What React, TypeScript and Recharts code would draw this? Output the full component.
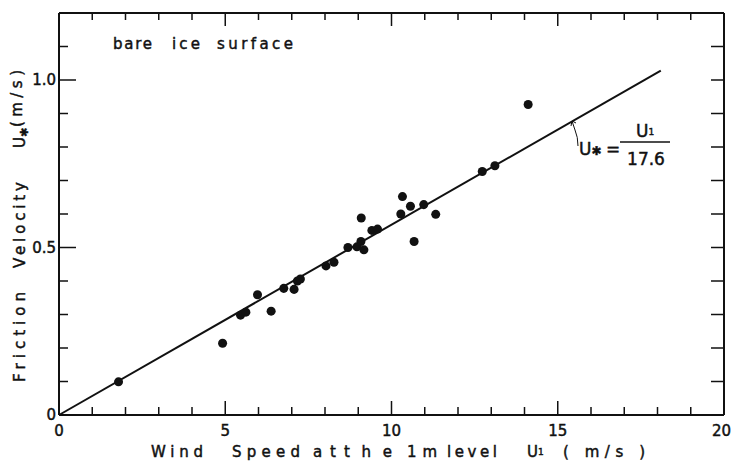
import React from "react";
import { ScatterChart, Scatter, XAxis, YAxis } from "recharts";

// wind speed at 1 m (m/s) and friction velocity (m/s), bare ice surface
const windSpeed = [
  1.79, 4.92, 5.46, 5.62, 5.97, 6.38, 6.76, 7.07, 7.17, 7.26, 8.03, 8.27, 8.69, 8.96,
  9.08, 9.17, 9.09, 9.41, 9.58, 10.28, 10.33, 10.57, 10.68, 10.97, 11.33, 12.73, 13.11, 14.11,
];
const frictionVelocity = [
  0.099, 0.214, 0.298, 0.307, 0.359, 0.31, 0.378, 0.375, 0.4, 0.406, 0.445, 0.456, 0.5, 0.502,
  0.518, 0.493, 0.588, 0.551, 0.555, 0.6, 0.652, 0.623, 0.518, 0.628, 0.599, 0.727, 0.744, 0.927,
];

// fitted line U* = U1 / 17.6
const fitU1 = [0, 18.1];
const fitUstar = [0, 1.028];

const xTicks = [0, 1, 2, 3, 4, 5, 6, 7, 8, 9, 10, 11, 12, 13, 14, 15, 16, 17, 18, 19, 20];
const yTicks = [0, 0.1, 0.2, 0.3, 0.4, 0.5, 0.6, 0.7, 0.8, 0.9, 1.0, 1.1, 1.2];
const yLabels: Record<string, string> = { "0": "0", "0.5": "0.5", "1": "1.0" };

const points = windSpeed.map((u, i) => ({ u, ustar: frictionVelocity[i] }));
const fit = fitU1.map((u, i) => ({ u, ustar: fitUstar[i] }));

const FONT = "'DejaVu Sans', Verdana, sans-serif";
const INK = "#111";
// scanned lettering is a little heavier than the plain font
const txt = { fontFamily: FONT, fill: INK, stroke: INK, strokeWidth: 0.45 };

const isMajorX = (v: number) => v % 5 === 0;
const isMajorY = (v: number) => Math.round(v * 10) % 5 === 0;

function BottomTick({ x, y, payload }: any) {
  const v = payload.value;
  const major = isMajorX(v);
  const last = v === 20;
  return (
    <g>
      <line x1={x} y1={y} x2={x} y2={y - (major ? 14 : 8)} stroke={INK} strokeWidth={1.5} />
      {major && (
        <text x={last ? 731 : x} y={y + 21} textAnchor={last ? "end" : "middle"} fontSize={15} {...txt}>
          {v}
        </text>
      )}
    </g>
  );
}

function TopTick({ x, y, payload }: any) {
  const major = isMajorX(payload.value);
  return <line x1={x} y1={y} x2={x} y2={y + (major ? 13 : 7)} stroke={INK} strokeWidth={1.5} />;
}

function LeftTick({ x, y, payload }: any) {
  const v = payload.value;
  const major = isMajorY(v);
  const label = yLabels[String(Math.round(v * 10) / 10)];
  return (
    <g>
      <line x1={x} y1={y} x2={x + (major ? 17 : 9)} y2={y} stroke={INK} strokeWidth={1.5} />
      {label && (
        <text x={x - 3} y={y + 5} textAnchor="end" fontSize={15} {...txt}>
          {label}
        </text>
      )}
    </g>
  );
}

function RightTick({ x, y }: any) {
  return <line x1={x} y1={y} x2={x - 13} y2={y} stroke={INK} strokeWidth={1.5} />;
}

function Word({ x, y, w, children, size = 15 }: any) {
  return (
    <text x={x} y={y} textLength={w} lengthAdjust="spacing" fontSize={size} {...txt}>
      {children}
    </text>
  );
}

export default function App() {
  return (
    <div style={{ position: "absolute", left: 0, top: 0, background: "#fff" }}>
      <ScatterChart width={731} height={462} margin={{ top: 12, right: 6, bottom: 0, left: 0 }}>
        <XAxis
          xAxisId="bottom"
          dataKey="u"
          type="number"
          domain={[0, 20]}
          ticks={xTicks}
          interval={0}
          height={47}
          tickSize={0}
          tickMargin={0}
          tickLine={false}
          axisLine={{ stroke: INK, strokeWidth: 2 }}
          tick={<BottomTick />}
        />
        <XAxis
          xAxisId="top"
          orientation="top"
          dataKey="u"
          type="number"
          domain={[0, 20]}
          ticks={xTicks}
          interval={0}
          height={1}
          tickSize={0}
          tickMargin={0}
          tickLine={false}
          axisLine={{ stroke: INK, strokeWidth: 2 }}
          tick={<TopTick />}
        />
        <YAxis
          yAxisId="left"
          dataKey="ustar"
          type="number"
          domain={[0, 1.2]}
          ticks={yTicks}
          interval={0}
          width={59}
          tickSize={0}
          tickMargin={0}
          tickLine={false}
          axisLine={{ stroke: INK, strokeWidth: 2 }}
          tick={<LeftTick />}
        />
        <YAxis
          yAxisId="right"
          orientation="right"
          dataKey="ustar"
          type="number"
          domain={[0, 1.2]}
          ticks={yTicks}
          interval={0}
          width={1}
          tickSize={0}
          tickMargin={0}
          tickLine={false}
          axisLine={{ stroke: INK, strokeWidth: 2 }}
          tick={<RightTick />}
        />
        <Scatter
          xAxisId="top"
          yAxisId="right"
          data={fit}
          line={{ stroke: INK, strokeWidth: 2 }}
          shape={() => <g />}
          isAnimationActive={false}
        />
        <Scatter
          xAxisId="bottom"
          yAxisId="left"
          data={points}
          fill={INK}
          isAnimationActive={false}
        />

        {/* plot caption */}
        <Word x={113} y={49} w={39}>bare</Word>
        <Word x={172} y={49} w={28}>ice</Word>
        <Word x={217} y={49} w={76}>surface</Word>

        {/* equation label */}
        <path
          d="M572 121 L575 130 Q578 137 578 146 M572 121 L576 123 M572 121 L571 126"
          stroke={INK}
          strokeWidth={1}
          fill="none"
        />
        <text x={579} y={155} fontSize={17} {...txt}>
          U<tspan fontSize={12}>✱</tspan>
        </text>
        <text x={606} y={155} fontSize={17} {...txt}>=</text>
        <line x1={620} y1={142} x2={670} y2={142} stroke={INK} strokeWidth={1.5} />
        <text x={636} y={137} fontSize={17} {...txt}>
          U<tspan fontSize={9} dy={-2}>1</tspan>
        </text>
        <text x={646} y={165} textAnchor="middle" fontSize={17} {...txt}>17.6</text>

        {/* x axis title */}
        <Word x={151} y={457} w={52}>Wind</Word>
        <Word x={232} y={457} w={68}>Speed</Word>
        <Word x={313} y={457} w={23}>at</Word>
        <Word x={344} y={457} w={48}>the</Word>
        <Word x={407} y={457} w={30}>1m</Word>
        <Word x={447} y={457} w={50}>level</Word>
        <text x={527} y={457} fontSize={15} {...txt}>
          U<tspan fontSize={9} dy={-2}>1</tspan>
        </text>
        <Word x={563} y={457} w={82}>( m/s )</Word>

        {/* y axis title */}
        <g transform="rotate(-90)">
          <Word x={-382} y={25} w={90}>Friction</Word>
          <Word x={-268} y={25} w={86}>Velocity</Word>
          <text x={-148} y={25} fontSize={15} {...txt}>
            U<tspan fontSize={11} dy={3}>✱</tspan>
          </text>
          <Word x={-127} y={22} w={57}>(m/s)</Word>
        </g>
      </ScatterChart>
    </div>
  );
}
